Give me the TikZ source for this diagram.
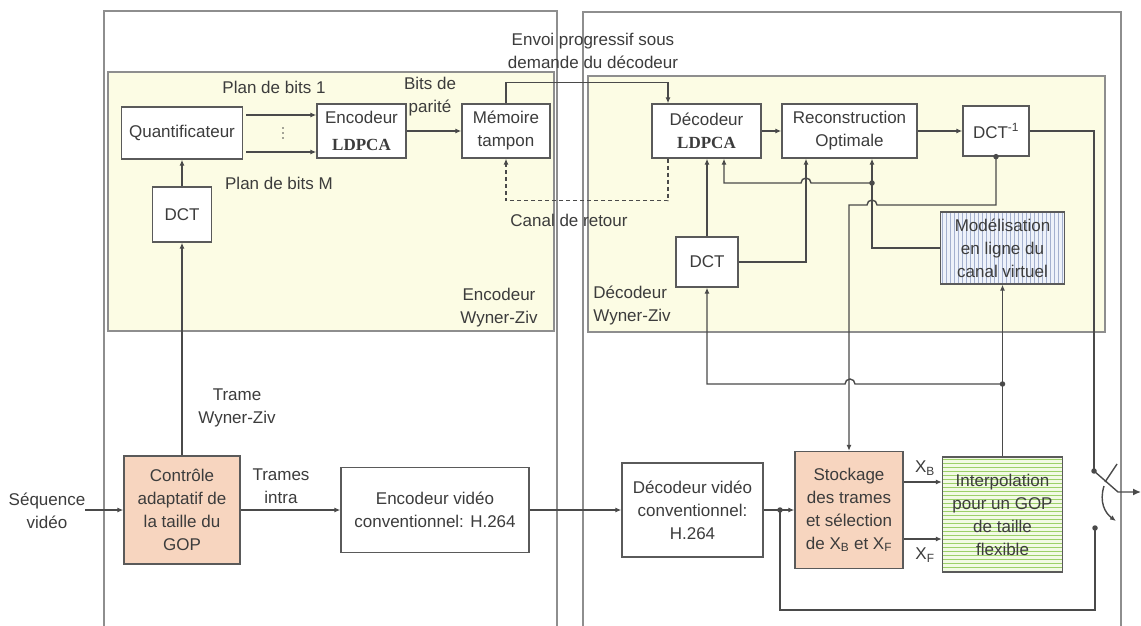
\documentclass[tikz,border=0pt]{standalone}
\usepackage{fontspec}
\setmainfont{Liberation Sans}
\newfontfamily\ldpcfont{Liberation Serif}
\usetikzlibrary{arrows.meta}

\definecolor{linec}{HTML}{4A4A4A}
\definecolor{framec}{HTML}{8E8E8E}
\definecolor{boxc}{HTML}{5A5A5A}
\definecolor{textc}{HTML}{3C3C3C}
\definecolor{yellowbg}{HTML}{FCFCE4}
\definecolor{peach}{HTML}{F7D5BF}
\definecolor{bluebg}{HTML}{EEF2FA}
\definecolor{bluehatch}{HTML}{A4B0CE}
\definecolor{greenbg}{HTML}{F2FAE4}
\definecolor{greenhatch}{HTML}{9CD068}

\begin{document}
\begin{tikzpicture}[x=1pt,y=-1pt,
  every node/.style={text=textc, font=\fontsize{17}{23}\selectfont},
  blockbase/.style={draw=boxc, line width=1.3pt, align=center, inner sep=0pt},
  blockbox/.style={blockbase, fill=white},
  vhatch/.style={fill=bluebg, path picture={
      \foreach \k in {2,6,...,126}
        \draw[bluehatch, line width=0.9pt]
          ([xshift=\k pt]path picture bounding box.north west) --
          ([xshift=\k pt]path picture bounding box.south west);}},
  hhatch/.style={fill=greenbg, path picture={
      \foreach \k in {2,6,...,118}
        \draw[greenhatch, line width=1pt]
          ([yshift=-\k pt]path picture bounding box.north west) --
          ([yshift=-\k pt]path picture bounding box.north east);}},
  lbl/.style={align=center, inner sep=0pt},
  arr/.style={draw=linec, line width=1.4pt, -{Latex[length=6pt,width=5pt]}},
  wire/.style={draw=linec, line width=1.4pt},
  tap/.style={circle, fill=linec, inner sep=0pt, minimum size=5.5pt},
  panel/.style={draw=framec, line width=1.5pt},
  zone/.style={draw=framec, line width=1.3pt, fill=yellowbg},
]
\useasboundingbox (0,0) rectangle (1141,626);
\fill[white] (0,0) rectangle (1141,626);

% encoder and decoder sides
\draw[panel] (104,626) -- (104,11) -- (557,11) -- (557,626);
\draw[panel] (583,626) -- (583,12) -- (1121,12) -- (1121,626);
\draw[zone] (108,72) rectangle (554,331);
\draw[zone] (588,76) rectangle (1105,332);

% Wyner-Ziv encoder blocks
\node[blockbox, minimum width=121pt, minimum height=52pt] (quant) at (182,133) {Quantificateur};
\node[blockbox, minimum width=89pt, minimum height=54pt] (encL) at (361.5,131) {Encodeur\\[4pt]{\ldpcfont\bfseries LDPCA}};
\node[blockbox, minimum width=88pt, minimum height=54pt] (mem) at (506,131) {Mémoire\\tampon};
\node[blockbox, minimum width=59pt, minimum height=55pt] (dctE) at (182,214.5) {DCT};

% Wyner-Ziv decoder blocks
\node[blockbox, minimum width=109pt, minimum height=54pt] (decL) at (706.5,131) {Décodeur\\{\ldpcfont\bfseries LDPCA}};
\node[blockbox, minimum width=135pt, minimum height=54pt] (recon) at (849.5,131) {Reconstruction\\Optimale};
\node[blockbox, minimum width=66pt, minimum height=50pt] (idct) at (996,131) {DCT\textsuperscript{-1}};
\node[blockbox, minimum width=62pt, minimum height=50pt] (dctD) at (707,262) {DCT};
\node[blockbase, vhatch, minimum width=124pt, minimum height=72pt]
      (model) at (1002.5,248) {Modélisation\\en ligne du\\canal virtuel};

% conventional chain
\node[blockbox, minimum width=116pt, minimum height=108pt, fill=peach] (ctrl) at (182,510) {Contrôle\\adaptatif de\\la taille du\\GOP};
\node[blockbox, minimum width=188pt, minimum height=85pt] (encV) at (435,510) {Encodeur vidéo\\conventionnel: H.264};
\node[blockbox, minimum width=141pt, minimum height=94pt] (decV) at (692.5,510) {Décodeur vidéo\\conventionnel:\\H.264};
\node[blockbox, minimum width=108pt, minimum height=117pt, fill=peach] (stock) at (849,510) {Stockage\\des trames\\et sélection\\de X\textsubscript{B} et X\textsubscript{F}};
\node[blockbase, hhatch, minimum width=120pt, minimum height=115pt]
      (interp) at (1002.5,514.5) {Interpolation\\pour un GOP\\de taille\\flexible};

% labels
\node[lbl] (lplan1) at (274,87) {Plan de bits 1};
\node[lbl] (lplanM) at (279,183) {Plan de bits M};
\node[lbl] (lparite) at (430,97) {Bits de\\parité};
\node[lbl] (lenvoi) at (593,51) {Envoi progressif sous\\demande du décodeur};
\node[lbl] (lcanal) at (569,220) {Canal de retour};
\node[lbl] (lencwz) at (499,307.5) {Encodeur\\Wyner-Ziv};
\node[lbl, align=left] (ldecwz) at (632,306) {Décodeur\\Wyner-Ziv};
\node[lbl] (ltrame) at (237,408) {Trame\\Wyner-Ziv};
\node[lbl] (lintra) at (281,486) {Trames\\intra};
\node[lbl] (lseq) at (47,511) {Séquence\\vidéo};
\node[lbl] (lxb) at (925,468) {X\textsubscript{B}};
\node[lbl] (lxf) at (925,555) {X\textsubscript{F}};
\foreach \yy in {128,133,138} \fill[linec] (283,\yy) circle (0.8pt);

% junction dots
\node[tap] (j1) at (872,183) {};
\node[tap] (j2) at (idct.south) {};
\node[tap] (j3) at (1002.5,384) {};
\node[tap] (j4) at (780,510) {};
\node[tap] (swA) at (1094,471) {};
\node[tap] (swB) at (1095,528) {};
\coordinate (swC) at (1118,492);
\coordinate (swOut) at (1141,492);

% encoder side
\draw[arr] (lseq.east |- ctrl.west) -- (ctrl.west);
\draw[arr] (ctrl.north) -- (dctE.south);
\draw[arr] (dctE.north) -- (quant.south);
\draw[arr] ([shift={(3pt,18pt)}]quant.east) -- ([yshift=18pt]quant.east -| encL.west);
\draw[arr] ([shift={(3pt,-19pt)}]quant.east) -- ([yshift=-19pt]quant.east -| encL.west);
\draw[arr] (encL.east) -- (mem.west);
\draw[arr] (mem.north) -- ++(0,-21) -| ([xshift=-38.5pt]decL.north);
\draw[arr, dash pattern=on 4pt off 3pt] ([xshift=-38.5pt]decL.south) -- ++(0,42) -| (mem.south);

% decoder side
\draw[arr] (decL.east) -- (recon.west);
\draw[arr] (recon.east) -- (idct.west);
\draw[wire] (idct.east) -| (swA.center);
\draw[arr] (dctD.north) -- (decL.south -| dctD.north);
\draw[arr] (dctD.east) -| ([xshift=-43.5pt]recon.south);
\draw[wire] (model.west) -| (j1.center);
\draw[arr] (j1.center) -- (j1.center |- recon.south);
\draw[arr] (j1.center) -- (811,183) arc[start angle=0,end angle=180,radius=5pt] -| ([xshift=17.5pt]decL.south);
\draw[arr] (j2.center) -- (996,205) -- (877,205) arc[start angle=0,end angle=180,radius=5pt] -| (stock.north);
\draw[wire] (interp.north) -- (j3.center);
\draw[arr] (j3.center) -- (model.south);
\draw[arr] (j3.center) -- (855,384) arc[start angle=0,end angle=180,radius=5pt] -| (dctD.south);

% conventional chain
\draw[arr] (ctrl.east) -- (encV.west);
\draw[arr] (encV.east) -- (decV.west);
\draw[arr] (decV.east) -- (stock.west);
\draw[wire] (j4.center) -- (780,610) -| (swB.center);
\draw[arr] ([yshift=28pt]stock.east) -- ([yshift=28pt]stock.east -| interp.west);
\draw[arr] ([yshift=-29pt]stock.east) -- ([yshift=-29pt]stock.east -| interp.west);

% output switch
\draw[arr, -{Latex[length=8pt,width=7pt]}] (swA.center) -- (swC) -- (swOut);
\draw[wire] (1105,482) -- (1117,464);
\draw[arr] (1104,486) .. controls (1099,502) and (1105,513) .. (1116,521);
\end{tikzpicture}
\end{document}
